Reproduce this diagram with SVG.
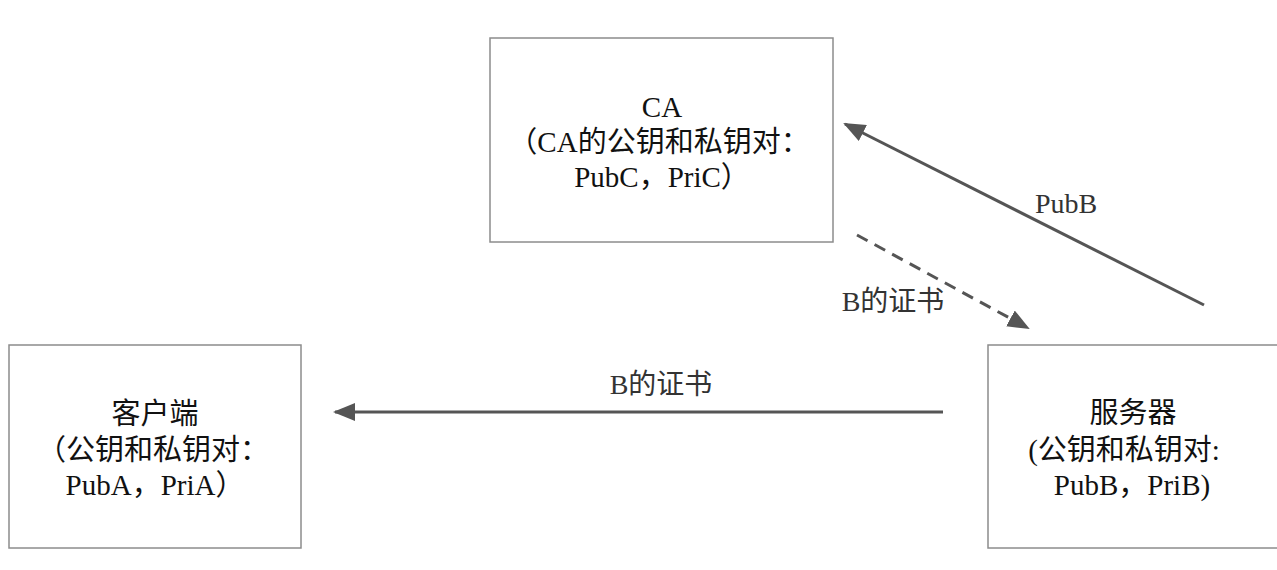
<svg xmlns="http://www.w3.org/2000/svg" width="1277" height="570" viewBox="0 0 1277 570">
<style>
.box{fill:#fff;stroke:#8c8c8c;stroke-width:1.5}
.t{font-family:"Liberation Serif","Noto Sans CJK SC",serif;font-size:29px;fill:#111;text-anchor:middle}
.lbl{font-family:"Liberation Serif","Noto Sans CJK SC",serif;font-size:28px;fill:#333;text-anchor:middle}
.ln{stroke:#555;stroke-width:3;fill:none}
.dash{stroke-dasharray:12 8}
</style>
<defs>
<marker id="ah" markerUnits="userSpaceOnUse" markerWidth="22" markerHeight="18" viewBox="0 0 22 18" refX="20" refY="9" orient="auto">
<path d="M0,0 L22,9 L0,18 Z" fill="#555"/>
</marker>
</defs>
<rect width="1277" height="570" fill="#fff"/>
<g id="ca">
<rect class="box" x="490" y="38" width="343" height="204"/>
<text class="t" x="662" y="117">CA</text>
<text class="t" x="659" y="152">（CA的公钥和私钥对：</text>
<text class="t" x="662" y="187">PubC，PriC）</text>
</g>
<g id="client">
<rect class="box" x="9" y="345" width="292" height="203"/>
<text class="t" x="155" y="424">客户端</text>
<text class="t" x="153" y="460">（公钥和私钥对：</text>
<text class="t" x="155" y="495">PubA，PriA）</text>
</g>
<g id="server">
<rect class="box" x="988" y="345" width="300" height="203"/>
<text class="t" x="1133" y="423">服务器</text>
<text class="t" x="1124" y="460">(公钥和私钥对:</text>
<text class="t" x="1132" y="495">PubB，PriB)</text>
</g>
<g id="connectors">
<line class="ln" x1="1204" y1="305" x2="845" y2="124" marker-end="url(#ah)"/>
<text class="lbl" x="1066" y="213">PubB</text>
<line class="ln dash" x1="857" y1="235" x2="1028" y2="328" marker-end="url(#ah)"/>
<text class="lbl" x="893" y="311">B的证书</text>
<line class="ln" x1="943" y1="412" x2="335" y2="412" marker-end="url(#ah)"/>
<text class="lbl" x="661" y="394">B的证书</text>
</g>
</svg>
